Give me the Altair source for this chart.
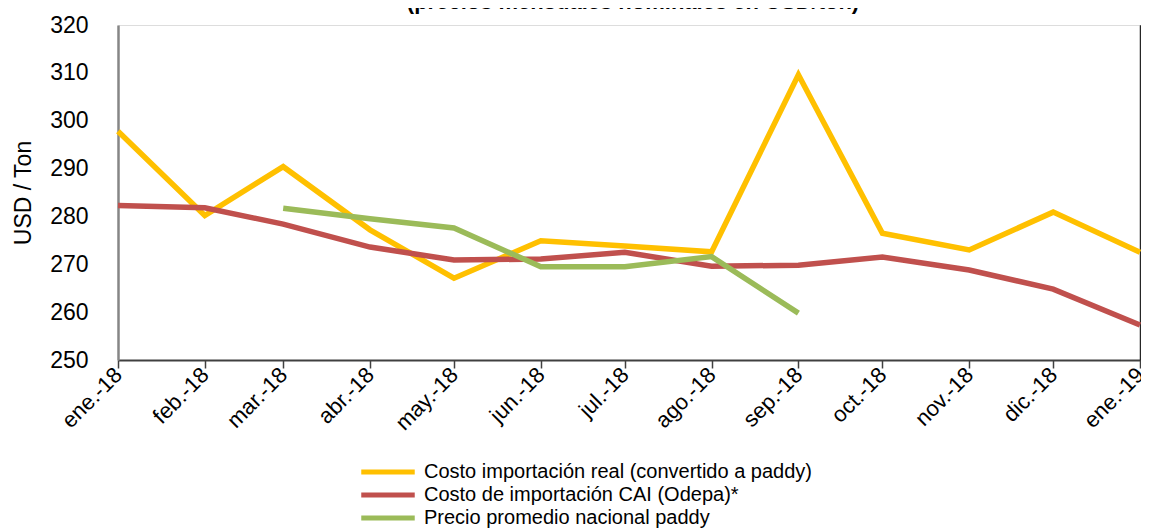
import altair as alt
import pandas as pd

months = ["2018-01-01", "2018-02-01", "2018-03-01", "2018-04-01", "2018-05-01",
          "2018-06-01", "2018-07-01", "2018-08-01", "2018-09-01", "2018-10-01",
          "2018-11-01", "2018-12-01", "2019-01-01"]
tick_labels = ["ene.-18", "feb.-18", "mar.-18", "abr.-18", "may.-18", "jun.-18",
               "jul.-18", "ago.-18", "sep.-18", "oct.-18", "nov.-18", "dic.-18", "ene.-19"]

real = [297.8, 280.2, 290.4, 277.2, 267.1, 274.9, 273.8, 272.6, 309.6, 276.5, 273.0, 280.9, 272.5]
cai = [282.3, 281.8, 278.4, 273.6, 270.9, 271.1, 272.5, 269.6, 269.8, 271.5, 268.8, 264.8, 257.3]
nacional = [None, None, 281.7, 279.5, 277.6, 269.5, 269.5, 271.6, 259.8, None, None, None, None]

series_names = ["Costo importación real (convertido a paddy)",
                "Costo de importación CAI (Odepa)*",
                "Precio promedio nacional paddy"]
series_colors = ["#FFC000", "#C0504D", "#9BBB59"]
title_text = ["(precios mensuales nominales en USD/ton)"]

rows = []
for name, vals in zip(series_names, [real, cai, nacional]):
    for m, v in zip(months, vals):
        if v is not None:
            rows.append({"fecha": m, "valor": v, "serie": name})
df = pd.DataFrame(rows)

label_expr = "[" + ",".join("'" + t + "'" for t in tick_labels) + "][(utcyear(datum.value) - 2018) * 12 + utcmonth(datum.value)]"

W, H = 1022, 335

x_scale = alt.Scale(type="utc", domain=[months[0], months[-1]], nice=False)
x_enc = alt.X("fecha:T", scale=x_scale,
              axis=alt.Axis(values=months, labelExpr=label_expr, labelAngle=-45,
                            labelAlign="right", labelBaseline="middle",
                            labelFontSize=22, labelColor="#000000", labelPadding=3,
                            tickSize=8, tickColor="#404040", tickWidth=1.5,
                            domainColor="#404040", domainWidth=2, grid=False,
                            title=None, labelOverlap=False, labelFlush=False))

y_scale = alt.Scale(domain=[250, 320], nice=False, zero=False)

lines = alt.Chart(df).mark_line(strokeWidth=5.5, strokeJoin="miter").encode(
    x=x_enc,
    y=alt.Y("valor:Q", scale=y_scale,
            axis=alt.Axis(values=list(range(250, 321, 10)), tickSize=0, labelPadding=30,
                          labelFontSize=23, labelColor="#000000", grid=False,
                          domainColor="#868686", domainWidth=2.5,
                          title="USD / Ton", titleFontSize=23, titleFontWeight="normal",
                          titleColor="#000000", titlePadding=14)),
    color=alt.Color("serie:N",
                    scale=alt.Scale(domain=series_names, range=series_colors),
                    legend=alt.Legend(title=None, orient="none", legendX=260, legendY=437,
                                      symbolType="M-5.1,0H5.1", symbolStrokeWidth=5,
                                      symbolSize=110, labelFontSize=20,
                                      labelColor="#000000", labelOffset=26,
                                      labelLimit=700, rowPadding=3, symbolOffset=0)),
)

right_axis = alt.Chart(df).mark_line(opacity=0).encode(
    x=x_enc,
    y=alt.Y("valor:Q", scale=y_scale,
            axis=alt.Axis(orient="right", values=list(range(250, 321, 10)), labels=False,
                          tickSize=5, tickColor="#262626", domainColor="#262626",
                          domainWidth=1.5, grid=False, title=None)),
    detail="serie:N",
)

title_mark = alt.Chart(pd.DataFrame({"t": title_text})).mark_text(
    fontSize=22, fontWeight="bold", color="#000000", align="center", baseline="alphabetic"
).encode(text="t:N", x=alt.value(W / 2 + 4), y=alt.value(-16))

chart = alt.layer(lines, right_axis, title_mark).resolve_axis(y="independent").properties(
    width=W, height=H,
    autosize=alt.AutoSizeParams(type="none"),
    padding={"left": 110, "top": 17, "right": 1, "bottom": 170},
).configure_view(stroke="#868686", strokeWidth=2).configure(
    font="Liberation Sans"
)

chart.save("out.html", embed_options={"renderer": "svg", "actions": False})
